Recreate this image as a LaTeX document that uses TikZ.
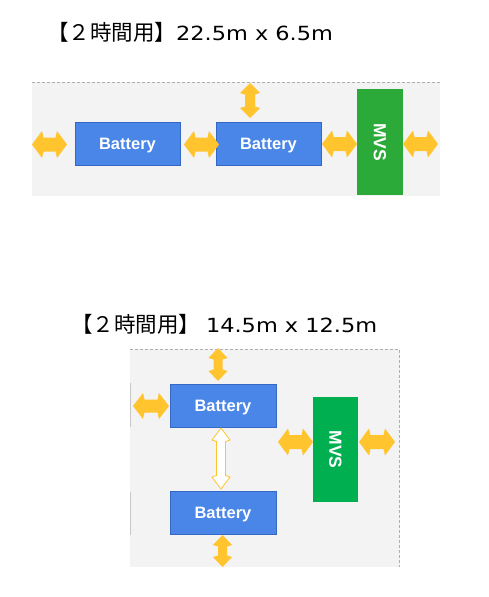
\documentclass[tikz,border=0pt]{standalone}
\usepackage{fontspec}
\newfontfamily\cjkfont{Noto Sans CJK JP}
\newfontfamily\latfont[FakeStretch=1.15]{DejaVu Sans}
\newfontfamily\labfont{Liberation Sans}
\definecolor{panelc}{RGB}{243,243,243}
\definecolor{dashc}{RGB}{175,175,175}
\definecolor{battc}{RGB}{74,134,232}
\definecolor{battb}{RGB}{52,104,196}
\definecolor{mvsa}{RGB}{43,170,57}
\definecolor{mvsb}{RGB}{0,176,80}
\definecolor{arrowc}{RGB}{255,196,46}
\newcommand\hdarrow[7]{%
  \path[#1] (#2,#4) -- (#2+#7,#4-#5) -- (#2+#7+1.5,#4-#6) -- (#3-#7-1.5,#4-#6) -- (#3-#7,#4-#5) -- (#3,#4)
   -- (#3-#7,#4+#5) -- (#3-#7-1.5,#4+#6) -- (#2+#7+1.5,#4+#6) -- (#2+#7,#4+#5) -- cycle;}
\newcommand\vdarrow[7]{%
  \path[#1] (#4,#2) -- (#4-#5,#2+#7) -- (#4-#6,#2+#7+1.5) -- (#4-#6,#3-#7-1.5) -- (#4-#5,#3-#7) -- (#4,#3)
   -- (#4+#5,#3-#7) -- (#4+#6,#3-#7-1.5) -- (#4+#6,#2+#7+1.5) -- (#4+#5,#2+#7) -- cycle;}
\tikzset{
  panel/.style={fill=panelc},
  dashline/.style={draw=dashc, line width=0.8pt, dash pattern=on 3pt off 2pt},
  battery/.style={rectangle, fill=battc, draw=battb, line width=0.8pt, minimum width=105pt, minimum height=43pt,
    inner sep=0pt, text=white, text depth=0pt, font=\labfont\bfseries\fontsize{16.5}{18}\selectfont},
  mvs/.style={rectangle, minimum width=46pt, minimum height=106pt, inner sep=0pt},
  mvslabel/.style={rotate=-90, text=white, inner sep=0pt, text depth=0pt, font=\labfont\bfseries\fontsize{17.5}{19}\selectfont},
  fat/.style={fill=arrowc},
  hollow/.style={draw=arrowc, fill=white, line width=0.8pt, line join=miter},
  title/.style={anchor=base west, inner sep=0pt, font=\fontsize{19.5}{22}\selectfont},
  cjk/.style={}
}
\newcommand\cjkpart[1]{{\cjkfont\fontsize{21.5}{24}\selectfont #1}}
\begin{document}
\begin{tikzpicture}[x=1pt,y=-1pt]
\useasboundingbox (0,0) rectangle (489,597);
% ---------- top panel ----------
\node[title] (t1) at (47,40) {\cjkpart{【２時間用】}{\latfont 22.5m x 6.5m}};
\fill[panel] (32,82) rectangle (440,196);
\draw[dashline] (32,82.5) -- (440,82.5);
\node[battery] (b1) at (127.5,143.5) {Battery};
\node[battery] (b2) at (268.5,143.5) {Battery};
\node[mvs, fill=mvsa] (m1) at (380,142) {};
\node[mvslabel] (m1t) at (m1.center) {MVS};
\hdarrow{fat}{32}{67}{144.5}{13.5}{7}{10}
\hdarrow{fat}{184}{219}{144.5}{13.5}{7}{10}
\hdarrow{fat}{322}{357}{144}{13.5}{7}{10}
\hdarrow{fat}{403}{438}{144}{13.5}{7}{10}
\vdarrow{fat}{83}{118}{250}{10}{5}{10}
% ---------- bottom panel ----------
\node[title] (t2) at (71,332) {\cjkpart{【２時間用】}\ {\latfont 14.5m x 12.5m}};
\fill[panel] (130,349) rectangle (399.5,567);
\draw[dashline] (130,349.5) -- (399.5,349.5) -- (399.5,567);
\draw[draw=dashc!70, line width=0.6pt] (130.5,383) -- (130.5,427) (130.5,492) -- (130.5,535);
\node[battery, minimum width=106pt] (b3) at (223,405.5) {Battery};
\node[battery, minimum width=106pt] (b4) at (223,513) {Battery};
\node[mvs, fill=mvsb, minimum width=45pt, minimum height=105pt] (m2) at (335.5,449.5) {};
\node[mvslabel] (m2t) at (m2.center) {MVS};
\vdarrow{fat}{348}{381}{218}{9.5}{4.5}{10}
\hdarrow{fat}{133}{169}{406}{13}{6.5}{10}
\vdarrow{hollow}{428}{489}{221}{9}{4.5}{12}
\vdarrow{fat}{535}{567}{222.5}{9.5}{4.5}{10}
\hdarrow{fat}{278}{313}{442}{13.5}{7}{10}
\hdarrow{fat}{359}{395}{442}{13.5}{7}{10}
\end{tikzpicture}
\end{document}
